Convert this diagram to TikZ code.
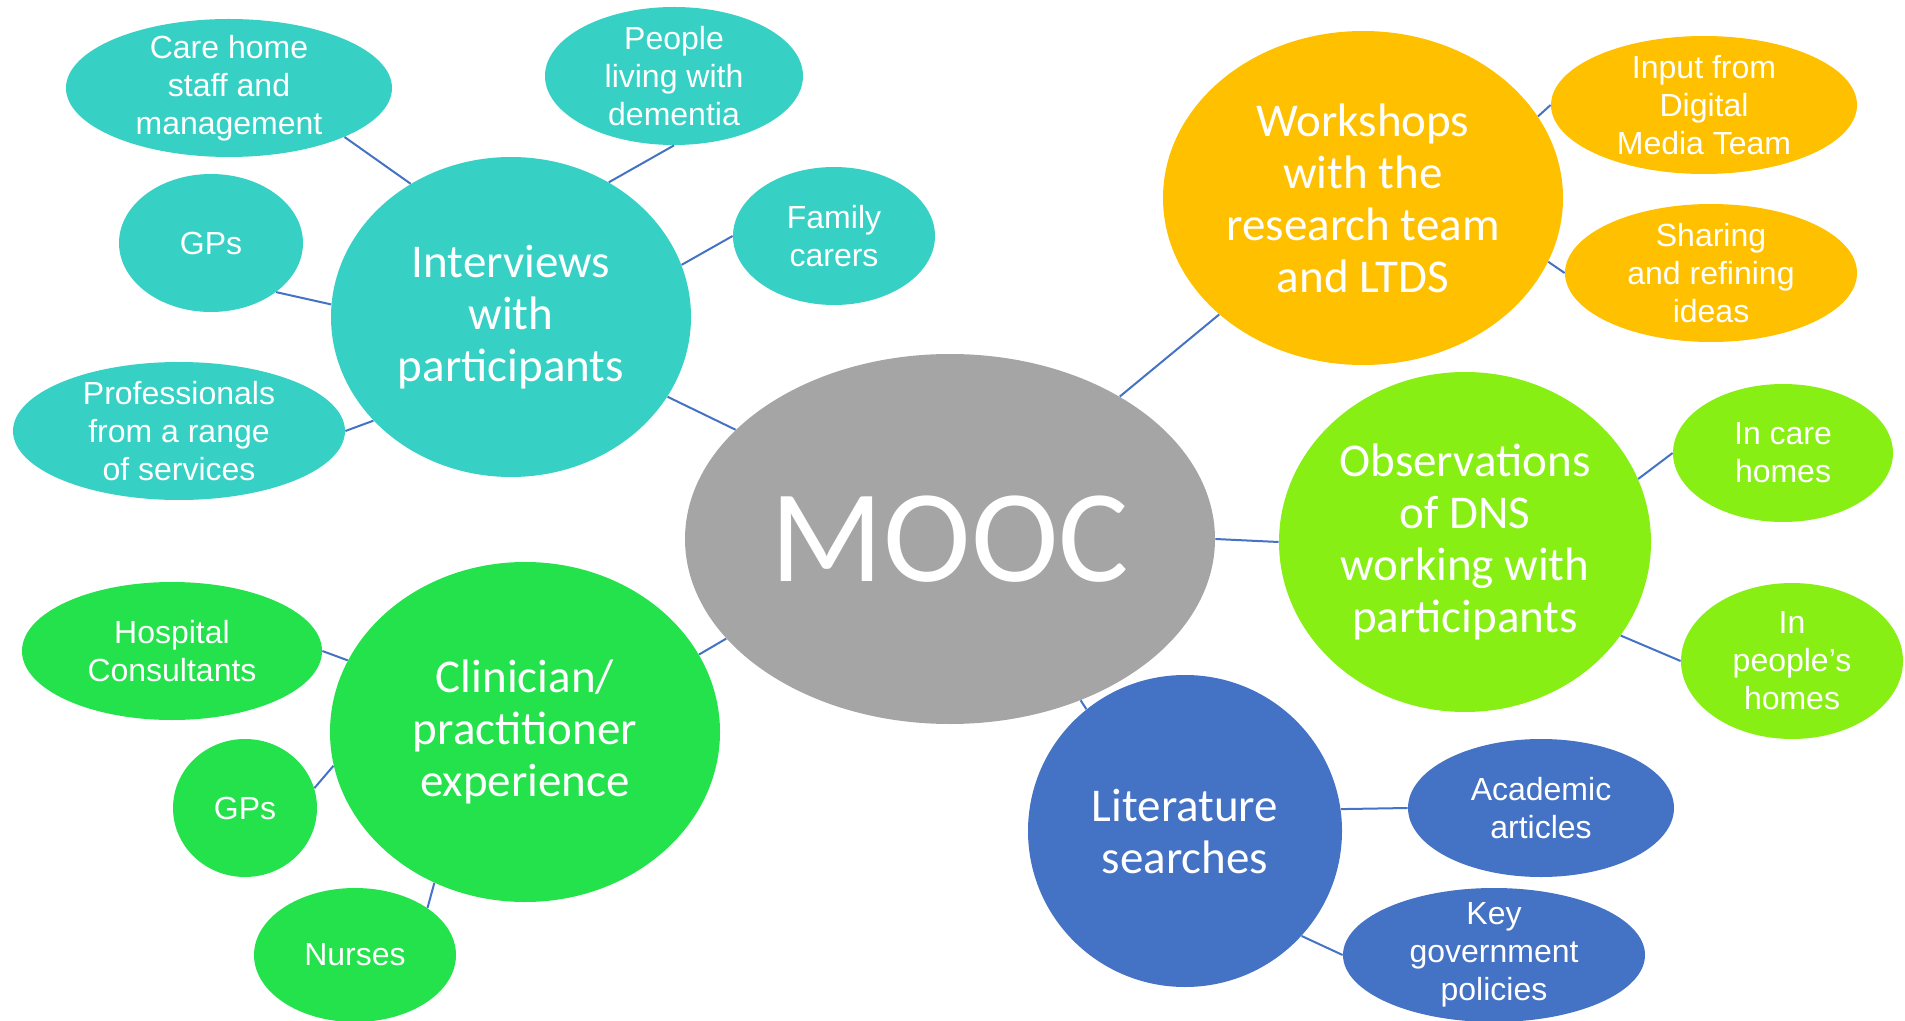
\documentclass[tikz,border=0pt]{standalone}
\usepackage{fontspec}
\setmainfont{Liberation Sans}
\newfontfamily\calfont{Carlito}
\usetikzlibrary{shapes.geometric}

\definecolor{bubgray}{HTML}{A5A5A5}
\definecolor{bubteal}{HTML}{36D1C4}
\definecolor{buborange}{HTML}{FFC000}
\definecolor{bublime}{HTML}{88EF14}
\definecolor{bubgreen}{HTML}{24E24B}
\definecolor{bubblue}{HTML}{4472C4}
\definecolor{linkblue}{HTML}{4472C4}

\tikzset{
  bubble/.style={ellipse, inner sep=-12pt, text=white, align=center},
  bsize/.style 2 args={minimum width=#1pt, minimum height=#2pt},
  bigtxt/.style={font=\calfont\fontsize{23.5}{26}\selectfont},
  smalltxt/.style={font=\fontsize{16}{19}\selectfont},
  link/.style={draw=linkblue, line width=1pt}
}

\begin{document}
\begin{tikzpicture}[x=0.5pt, y=-0.5pt]
  \useasboundingbox (0,0) rectangle (1905,1021);

  % centre
  \node[bubble, fill=bubgray, bsize={265}{185}, font=\calfont\fontsize{66}{70}\selectfont] (mooc) at (950,539) {MOOC};

  % interviews
  \node[bubble, fill=bubteal, bsize={180}{160}, bigtxt] (intv) at (511,317) {Interviews\\with\\participants};
  \node[bubble, fill=bubteal, bsize={163}{69}, smalltxt] (care) at (229,88) {Care home\\staff and\\management};
  \node[bubble, fill=bubteal, bsize={129}{69}, smalltxt] (ppl) at (674,76) {People\\living with\\dementia};
  \node[bubble, fill=bubteal, bsize={92}{69}, smalltxt] (gpa) at (211,243) {GPs};
  \node[bubble, fill=bubteal, bsize={101}{69}, smalltxt] (fam) at (834,236) {Family\\carers};
  \node[bubble, fill=bubteal, bsize={166}{69}, smalltxt] (prof) at (179,431) {Professionals\\from a range\\of services};

  % workshops
  \node[bubble, fill=buborange, bsize={200}{167}, bigtxt] (wshop) at (1363,198) {Workshops\\with the\\research team\\and LTDS};
  \node[bubble, fill=buborange, bsize={153}{69}, smalltxt] (dmt) at (1704,105) {Input from\\Digital\\Media Team};
  \node[bubble, fill=buborange, bsize={146}{69}, smalltxt] (share) at (1711,273) {Sharing\\and refining\\ideas};

  % observations
  \node[bubble, fill=bublime, bsize={186}{170}, bigtxt] (obs) at (1465,542) {Observations\\of DNS\\working with\\participants};
  \node[bubble, fill=bublime, bsize={110}{69}, smalltxt] (icare) at (1783,453) {In care\\homes};
  \node[bubble, fill=bublime, bsize={111}{78}, smalltxt] (phome) at (1792,661) {In\\people’s\\homes};

  % literature
  \node[bubble, fill=bubblue, bsize={157}{156}, bigtxt] (lit) at (1185,831) {Literature\\searches};
  \node[bubble, fill=bubblue, bsize={133}{69}, smalltxt] (acad) at (1541,808) {Academic\\articles};
  \node[bubble, fill=bubblue, bsize={151}{67}, smalltxt] (key) at (1494,955) {Key\\government\\policies};

  % clinician
  \node[bubble, fill=bubgreen, bsize={195}{170}, bigtxt] (clin) at (525,732) {Clinician/\\practitioner\\experience};
  \node[bubble, fill=bubgreen, bsize={150}{69}, smalltxt] (hosp) at (172,651) {Hospital\\Consultants};
  \node[bubble, fill=bubgreen, bsize={72}{69}, smalltxt] (gpb) at (245,808) {GPs};
  \node[bubble, fill=bubgreen, bsize={101}{67}, smalltxt] (nurse) at (355,955) {Nurses};

  % links
  \draw[link] (intv.-27) -- (mooc.153);
  \draw[link] (care.-23) -- (intv.127);
  \draw[link] (ppl.-90) -- (intv.54);
  \draw[link] (gpa.-37) -- (intv.176);
  \draw[link] (fam.180) -- (intv.17);
  \draw[link] (prof.0) -- (intv.217);

  \draw[link] (mooc.40) -- (wshop.219);
  \draw[link] (dmt.180) -- (wshop.25);
  \draw[link] (share.180) -- (wshop.-19);

  \draw[link] (mooc.0) -- (obs.180);
  \draw[link] (icare.180) -- (obs.20);
  \draw[link] (phome.180) -- (obs.-31);

  \draw[link] (mooc.-51) -- (lit.129);
  \draw[link] (lit.8) -- (acad.180);
  \draw[link] (lit.-42) -- (key.180);

  \draw[link] (clin.24) -- (mooc.204);
  \draw[link] (hosp.0) -- (clin.158);
  \draw[link] (gpb.16) -- (clin.190);
  \draw[link] (nurse.33) -- (clin.-121);
\end{tikzpicture}
\end{document}
